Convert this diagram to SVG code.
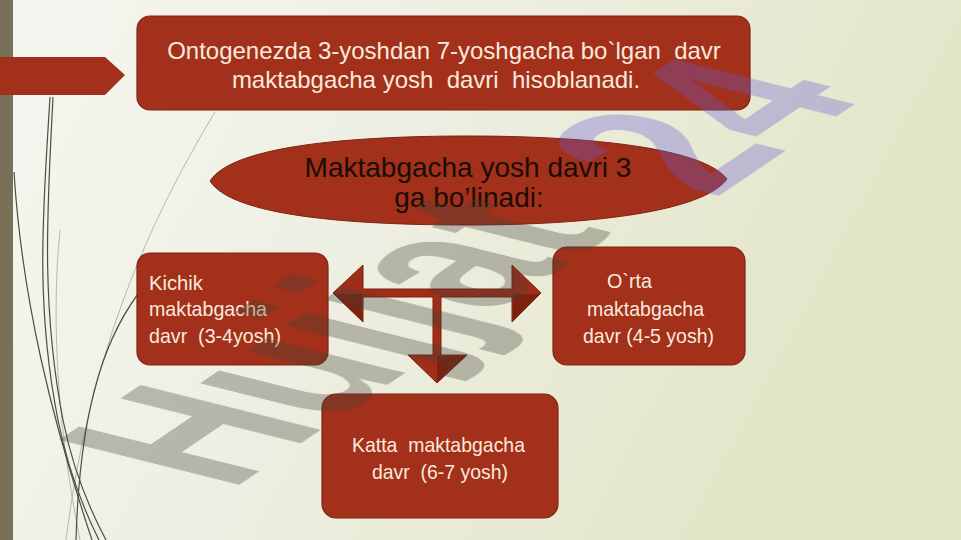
<svg xmlns="http://www.w3.org/2000/svg" width="961" height="540" viewBox="0 0 961 540">
<defs>
<linearGradient id="bg" x1="0" y1="0" x2="1" y2="0.3">
<stop offset="0" stop-color="#f6f6f1"/>
<stop offset="0.45" stop-color="#eeefe3"/>
<stop offset="1" stop-color="#e2e5c6"/>
</linearGradient>
</defs>
<style>
.box{fill:#a3301a;stroke:#7e2412;stroke-width:1.2}
.wt{font-family:"Liberation Sans",Arial,sans-serif;fill:#faeadc}
.bk{font-family:"Liberation Sans",Arial,sans-serif;fill:#1c0c06}
.arr{fill:#a02d17;stroke:#7a2010;stroke-width:1}
.shade{fill:#7e2210}
.wisp{fill:none;stroke:#4e4e3c;stroke-width:1.2}
.wisp2{fill:none;stroke:#b8b8aa;stroke-width:1}
.wm{font-family:"Liberation Sans",Arial,sans-serif;font-weight:bold;font-size:100px}
</style>
<rect x="0" y="0" width="961" height="540" fill="url(#bg)"/>
<g id="decor">
<path class="wisp2" d="M215,112 C150,220 90,350 66,540"/>
<path class="wisp2" d="M60,230 C50,330 60,440 80,540"/>
<path class="wisp" d="M50,97 C44,200 34,300 58,420 C68,470 84,510 99,540"/>
<path class="wisp" d="M53,97 C48,200 40,300 63,420 C73,470 90,510 106,540"/>
<path class="wisp" d="M14,172 C22,300 52,420 92,540"/>
<path class="wisp" d="M145,285 C108,330 80,400 76,540"/>
</g>
<rect id="sidebar" x="0" y="0" width="13" height="540" fill="#787059"/>
<g id="pointer">
<polygon points="0,57 105,57 125,75 105,95 0,95" fill="#a3301a"/>
</g>
<g id="top-box">
<rect class="box" x="137" y="16" width="613" height="94" rx="13"/>
<text class="wt" x="444" y="59" font-size="24" text-anchor="middle" xml:space="preserve">Ontogenezda 3-yoshdan 7-yoshgacha bo`lgan  davr</text>
<text class="wt" x="436" y="88" font-size="24" text-anchor="middle" xml:space="preserve">maktabgacha yosh  davri  hisoblanadi.</text>
</g>
<g id="ellipse">
<path d="M210,181 C232,146 350,136 468,136 C590,136 703,148 727,179 C703,212 590,225 468,225 C350,225 232,216 210,181 Z" fill="#a3301a" stroke="#7e2412" stroke-width="1"/>
<text class="bk" x="468" y="177" font-size="28" text-anchor="middle">Maktabgacha yosh davri 3</text>
<text class="bk" x="469" y="207" font-size="28" text-anchor="middle">ga bo’linadi:</text>
</g>
<g id="kichik">
<rect class="box" x="137" y="253" width="191" height="112" rx="13"/>
<text class="wt" x="149" y="290" font-size="21" textLength="54" lengthAdjust="spacingAndGlyphs">Kichik</text>
<text class="wt" x="149" y="316" font-size="21" textLength="118" lengthAdjust="spacingAndGlyphs">maktabgacha</text>
<text class="wt" x="149" y="343" font-size="21" textLength="132" lengthAdjust="spacingAndGlyphs" xml:space="preserve">davr  (3-4yosh)</text>
</g>
<g id="orta">
<rect class="box" x="553" y="247" width="192" height="118" rx="14"/>
<text class="wt" x="607" y="288" font-size="21" textLength="45" lengthAdjust="spacingAndGlyphs">O`rta</text>
<text class="wt" x="587" y="316" font-size="21" textLength="117" lengthAdjust="spacingAndGlyphs">maktabgacha</text>
<text class="wt" x="583" y="343" font-size="21" textLength="131" lengthAdjust="spacingAndGlyphs">davr (4-5 yosh)</text>
</g>
<g id="katta">
<rect class="box" x="322" y="394" width="236" height="124" rx="14"/>
<text class="wt" x="352" y="452" font-size="21" textLength="173" lengthAdjust="spacingAndGlyphs" xml:space="preserve">Katta  maktabgacha</text>
<text class="wt" x="372" y="479" font-size="21" textLength="136" lengthAdjust="spacingAndGlyphs" xml:space="preserve">davr  (6-7 yosh)</text>
</g>
<g id="connectors">
<polygon class="arr" points="333,293 363,265 363,289 512,289 512,265 541,293 512,322 512,297 441,297 441,355 467,355 437,383 408,355 433,355 433,297 363,297 363,322"/>
<polygon class="shade" points="334,294 362,294 362,321"/>
<polygon class="shade" points="540,294 513,294 513,321"/>
<polygon class="shade" points="437,356 466,356 437,382"/>
</g>
<g id="watermark" opacity="0.33">
<text class="wm" fill="#444438" transform="matrix(1.384,-0.934,2.62,0.653,230,491)">Hujjat</text>
<text class="wm" fill="#6a58d0" transform="matrix(1.384,-0.934,2.62,0.653,714,199)">24</text>
</g>
</svg>
